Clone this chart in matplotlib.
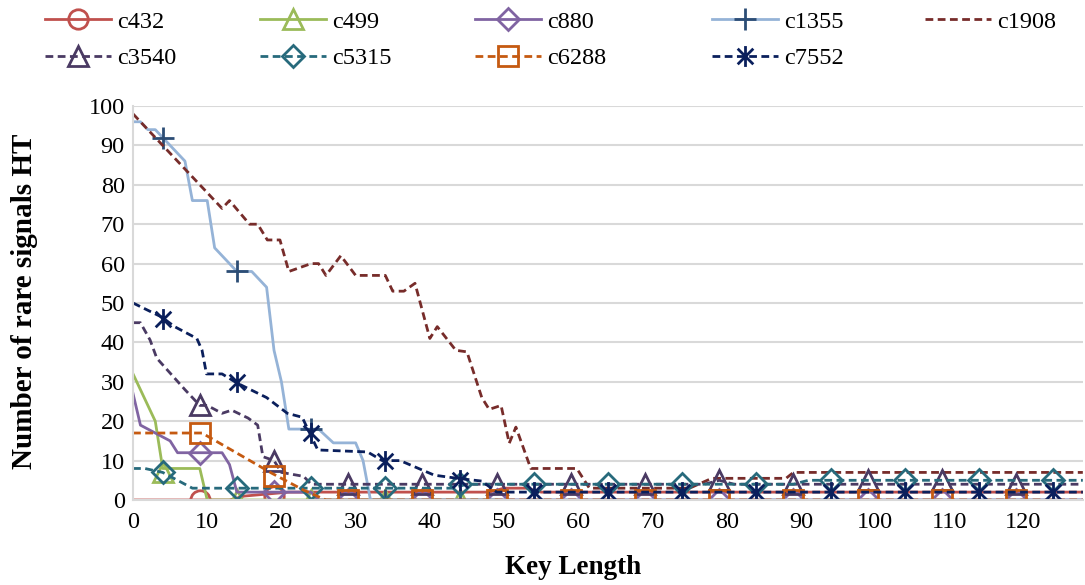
import numpy as np
import matplotlib.pyplot as plt
from matplotlib.lines import Line2D
from matplotlib.path import Path

plt.rcParams['font.family'] = ['Liberation Serif', 'DejaVu Serif']

# -----------------------------
#  data
# -----------------------------
names = ["c432", "c499", "c880", "c1355", "c1908", "c3540", "c5315", "c6288", "c7552"]

c432_x = [0, 13, 15, 21, 48, 50, 53, 55, 58, 128]
c432_y = [0, 0, 1, 2, 2, 3, 3, 2, 2, 2]
c499_x = [0, 3, 4, 9, 10, 49]
c499_y = [32, 20, 8, 8, 0, 0]
c880_x = [0, 1, 5, 6, 12, 13, 14, 24, 25, 128]
c880_y = [27, 19, 15, 12, 12, 9, 2, 2, 0, 0]
c1355_x = [0, 1, 2, 3, 7, 8, 10, 11, 14, 16, 18, 19, 20, 21, 25, 27, 30, 31, 32, 128]
c1355_y = [96, 96, 94, 94, 86, 76, 76, 64, 58, 58, 54, 38, 30, 18, 18, 14.5, 14.5, 10, 0, 0]
c1908_x = [0, 12, 13, 15.7, 16.8, 18.1, 19.8, 21, 24, 25, 26, 28, 30, 34, 35, 36.5, 38, 40,
           41, 43.5, 45, 47, 48, 49.6, 50.7, 51.6, 53.6, 59.8, 61.5, 75, 78, 88, 89, 128]
c1908_y = [98, 74, 76, 70, 70, 66, 66, 58, 60, 60, 57, 62, 57, 57, 53, 53, 55, 41,
           44, 38, 37.6, 26, 23, 24, 14.4, 18.5, 8, 8, 3, 3, 5.5, 5.5, 7, 7]
c3540_x = [0, 1, 2.3, 3.2, 7, 9, 10, 12, 13.3, 15.5, 16.8, 17.5, 19, 20, 23, 24, 77, 79, 81, 128]
c3540_y = [45, 45, 40.6, 36, 28, 24, 24, 22, 22.8, 20.8, 19, 11, 10, 7, 6, 4, 4, 5, 4, 4]
c5315_x = [0, 1.6, 4, 8, 43, 45, 89, 91, 128]
c5315_y = [8, 8, 7, 3, 3, 4, 4, 5, 5]
c6288_x = [0, 9.3, 18.7, 23, 26, 128]
c6288_y = [17, 17, 6.8, 2.5, 0, 0]
c7552_x = [0, 3.9, 5.6, 8.6, 9.3, 9.9, 12, 14, 18, 20.8, 22.8, 23.8, 24.9, 31.6, 33.6, 36,
           40.6, 43.7, 47, 49, 128]
c7552_y = [50, 46.4, 44, 41, 38, 32, 32, 29.7, 26, 22, 21, 17, 12.7, 12.2, 10, 10,
           6.3, 5.5, 4.8, 2, 2]

# marker points (every 10th key length)
m9 = [9, 19, 29, 39, 49, 59, 69, 79, 89, 99, 109, 119]
m4 = [4, 14, 24, 34, 44, 54, 64, 74, 84, 94, 104, 114, 124]
c432_mx = [9, 19]
c432_m = [0, 1]
c499_mx = [4, 14, 24, 34, 44]
c499_m = [7, 0, 0, 0, 0]
c880_m = [12, 2, 0, 0, 0, 0, 0, 0, 0, 0, 0, 0]
c1355_m = [92, 58, 18, 0, 0, 0, 0, 0, 0, 0, 0, 0, 0]
c3540_m = [24, 10, 4, 4, 4, 4, 4, 5, 4, 5, 5, 4]
c5315_m = [7, 3, 3, 3, 4, 4, 4, 4, 4, 5, 5, 5, 5]
c6288_m = [17, 6, 0, 0, 0, 0, 0, 0, 0, 0, 0, 0]
c7552_m = [46, 30, 17, 10, 5, 2, 2, 2, 2, 2, 2, 2, 2]

# -----------------------------
#  styles
# -----------------------------
star = Path([(0, -1), (0, 1), (-0.75, -0.75), (0.75, 0.75), (-0.75, 0.75), (0.75, -0.75)],
            [Path.MOVETO, Path.LINETO, Path.MOVETO, Path.LINETO, Path.MOVETO, Path.LINETO])
dash = (0, (2.8, 1.6))
series = [
    # x, y, marker x, marker y, line colour, marker colour, style, marker, size
    (c432_x, c432_y, c432_mx, c432_m, "#C0504D", "#C0504D", "-", "o", 14),
    (c499_x, c499_y, c499_mx, c499_m, "#9BBB59", "#9BBB59", "-", "^", 14),
    (c880_x, c880_y, m9, c880_m, "#8064A2", "#8064A2", "-", "D", 11),
    (c1355_x, c1355_y, m4, c1355_m, "#95B3D7", "#2C4D75", "-", "+", 16),
    (c1908_x, c1908_y, [], [], "#772C2A", "#772C2A", dash, None, 0),
    (c3540_x, c3540_y, m9, c3540_m, "#4A3A63", "#4A3A63", dash, "^", 14),
    (c5315_x, c5315_y, m4, c5315_m, "#276A7C", "#276A7C", dash, "D", 11),
    (c6288_x, c6288_y, m9, c6288_m, "#C55A11", "#C55A11", dash, "s", 14),
    (c7552_x, c7552_y, m4, c7552_m, "#0A1F5C", "#0A1F5C", dash, star, 15),
]

fig = plt.figure(figsize=(10.85, 5.85), dpi=100)
ax = fig.add_axes([0.1226, 0.1453, 0.8754, 0.6735])

handles = []
for (x, y, mx, my, lc, mc, ls, mk, ms) in series:
    ax.plot(x, y, color=lc, linestyle=ls, linewidth=2)
    if mk is not None:
        ax.plot(mx, my, linestyle="none", marker=mk, markersize=ms,
                markerfacecolor="none", markeredgecolor=mc, markeredgewidth=2)
    handles.append(Line2D([], [], color=lc, linestyle=ls, linewidth=2, marker=mk,
                          markersize=ms, markerfacecolor="none",
                          markeredgecolor=mc, markeredgewidth=2))

ax.set_xlim(0, 128)
ax.set_ylim(0, 100)
ax.set_xticks(range(0, 121, 10))
ax.set_yticks(range(0, 101, 10))
ax.tick_params(length=0, labelsize=17.5)
ax.tick_params(axis="x", pad=9)
ax.tick_params(axis="y", pad=6)
ax.grid(axis="y", color="#D9D9D9", linewidth=1.5)
ax.set_axisbelow(True)
for s in ["top", "right"]:
    ax.spines[s].set_visible(False)
for s in ["left", "bottom"]:
    ax.spines[s].set_color("#D9D9D9")
    ax.spines[s].set_linewidth(1.5)

fig.text(573 / 1085, 1 - 568 / 585, "Key Length", fontsize=19.5, fontweight="bold",
         ha="center", va="center")
fig.text(25 / 1085, 1 - 301 / 585, "Number of rare signals HT", fontsize=21,
         fontweight="bold", rotation=90, ha="center", va="center")

# legend: one small legend per column, placed like the original
cols = [[0, 5], [1, 6], [2, 7], [3, 8], [4]]
col_x = [45, 260, 475, 712, 925]
for idx, cx in zip(cols, col_x):
    fig.legend([handles[i] for i in idx], [names[i] for i in idx], loc="upper left",
               bbox_to_anchor=(cx / 1085, 0.982), frameon=False, fontsize=17.5,
               handlelength=2.7, handletextpad=0.25, labelspacing=0.6,
               borderpad=0, borderaxespad=0)

fig.savefig("out.png", dpi=100)
